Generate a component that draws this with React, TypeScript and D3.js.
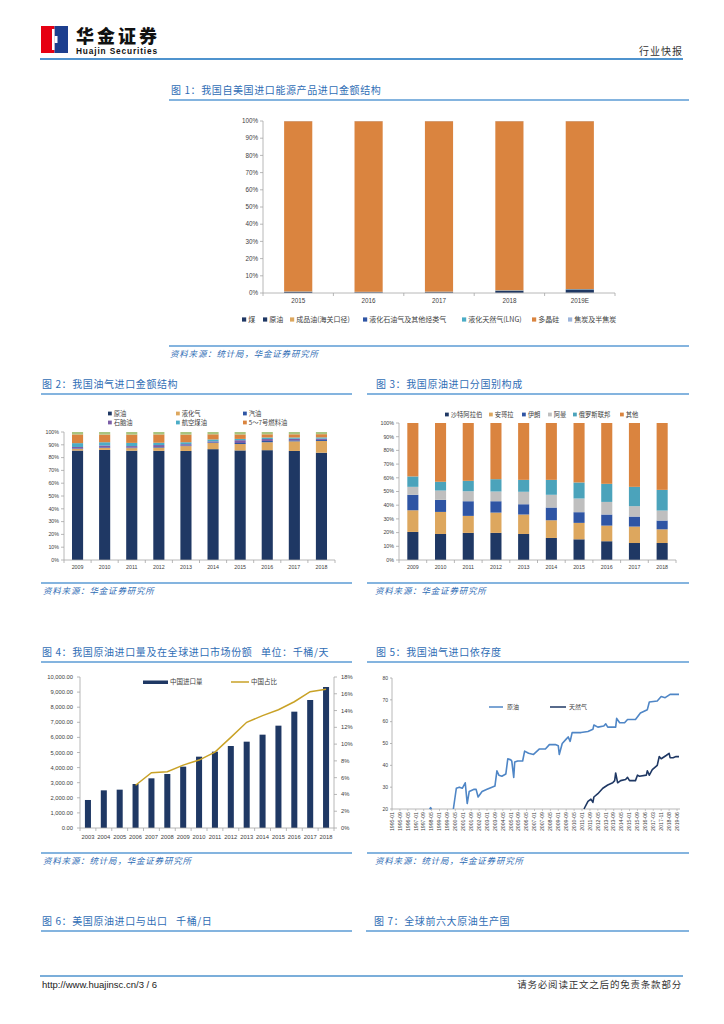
import * as d3 from 'd3';

const SANS = '"Liberation Sans", "Noto Sans CJK SC", sans-serif';
const CJK = '"Noto Sans CJK SC", sans-serif';
const TITLE_BLUE = '#2F6DB5';
const RULE_BLUE = '#5B9BD5';
const AXIS = '#A6A6A6';
const TEXT = '#404040';
const GAP = '\u00a0\u00a0\u00a0';

// ---------- Fig 1 ----------
const fig1Years = ['2015', '2016', '2017', '2018', '2019E'];
const fig1Names = ['煤', '原油', '成品油(海关口径)', '液化石油气及其他烃类气', '液化天然气(LNG)', '多晶硅', '焦炭及半焦炭'];
const fig1Colors = ['#203864', '#1F3864', '#DDA75E', '#2F55A4', '#4BACC6', '#DA843F', '#9DB5DB'];
const fig1Coal = [0.1, 0.1, 0.1, 0.1, 0.2];
const fig1Crude = [0.5, 0.3, 0.4, 1.2, 1.8];
const fig1Refined = [0.1, 0.1, 0.1, 0.1, 0.1];
const fig1Lpg = [0.1, 0.1, 0.1, 0.1, 0.1];
const fig1Lng = [0.1, 0.1, 0.1, 0.1, 0.1];
const fig1Silicon = [99.0, 99.2, 99.1, 98.3, 97.6];
const fig1Coke = [0.1, 0.1, 0.1, 0.1, 0.1];

// ---------- Fig 2 ----------
const fig2Years = ['2009', '2010', '2011', '2012', '2013', '2014', '2015', '2016', '2017', '2018'];
const fig2Names = ['原油', '液化气', '汽油', '石脑油', '航空煤油', '5～7号燃料油', '其他'];
const fig2Colors = ['#1F3864', '#DDA75E', '#2F55A4', '#7B5EA7', '#4BACC6', '#DA843F', '#A9C47F'];
const fig2Crude = [85.5, 86.0, 85.4, 85.3, 85.2, 86.6, 85.6, 85.8, 85.2, 83.8];
const fig2Lpg = [1.2, 1.5, 2.0, 2.5, 3.8, 4.8, 5.0, 6.2, 7.5, 9.2];
const fig2Gasoline = [0.4, 0.5, 0.4, 0.5, 0.5, 0.5, 0.8, 1.0, 0.8, 0.8];
const fig2Naphtha = [1.2, 1.5, 1.2, 1.5, 1.0, 0.8, 2.2, 1.5, 1.2, 1.0];
const fig2Jet = [3.0, 2.5, 2.5, 1.8, 1.5, 1.5, 1.0, 1.2, 1.0, 1.0];
const fig2Fuel = [6.8, 6.0, 6.5, 6.5, 6.0, 4.0, 3.5, 2.5, 2.5, 2.5];
const fig2Other = [1.9, 2.0, 2.0, 1.9, 2.0, 1.8, 1.9, 1.8, 1.8, 1.7];

// ---------- Fig 3 ----------
const fig3Years = fig2Years;
const fig3Names = ['沙特阿拉伯', '安哥拉', '伊朗', '阿曼', '俄罗斯联邦', '其他'];
const fig3Colors = ['#1F3864', '#DDA75E', '#2F55A4', '#BFBFBF', '#4BA3BB', '#DA843F'];
const fig3Saudi = [20.5, 19.0, 19.8, 19.8, 19.0, 16.1, 15.1, 13.7, 12.4, 12.4];
const fig3Angola = [15.8, 16.1, 12.4, 14.8, 14.2, 12.9, 12.0, 11.4, 12.0, 10.0];
const fig3Iran = [11.3, 8.8, 10.7, 8.3, 7.5, 9.3, 7.8, 8.1, 7.3, 6.4];
const fig3Oman = [5.8, 6.8, 7.3, 7.1, 9.1, 9.3, 10.0, 9.2, 7.6, 7.3];
const fig3Russia = [7.6, 6.4, 7.6, 9.0, 8.7, 10.9, 11.7, 13.2, 14.1, 15.1];
const fig3Other = [39.0, 42.9, 42.2, 41.0, 41.5, 41.5, 43.4, 44.4, 46.6, 48.8];

// ---------- Fig 4 ----------
const fig4Years = ['2003', '2004', '2005', '2006', '2007', '2008', '2009', '2010', '2011', '2012', '2013', '2014', '2015', '2016', '2017', '2018'];
const fig4Imports = [1855, 2494, 2539, 2914, 3289, 3576, 4062, 4724, 5055, 5430, 5717, 6181, 6777, 7704, 8477, 9338];
const fig4Share = [null, null, null, 5.1, 6.6, 6.7, 7.5, 8.1, 9.05, 10.8, 12.6, 13.4, 14.1, 15.05, 16.25, 16.55];

// ---------- Fig 5 ----------
const fig5Ticks = ['1995-01', '1995-09', '1996-05', '1997-01', '1997-09', '1998-05', '1999-01', '1999-09', '2000-05', '2001-01', '2001-09', '2002-05', '2003-01', '2003-09', '2004-05', '2005-01', '2005-09', '2006-05', '2007-01', '2007-09', '2008-05', '2009-01', '2009-09', '2010-05', '2011-01', '2011-09', '2012-05', '2013-01', '2013-09', '2014-05', '2015-01', '2015-09', '2016-06', '2017-03', '2017-11', '2018-08', '2019-06'];
// [period index since 1995-01, value]
const fig5Crude: [number, number | null][] = [
  [38, 20], [39, 20.6], [40, 20], [41, null],
  [62, 20], [65, 29.5], [68, 30], [71, 29.5], [74, 32], [76, 22.5], [78, 28], [83, 29], [85, 29], [87, 25.5],
  [91, 28], [96, 29], [101, 30], [104, 30.5], [106, 37.5], [108, 35.5], [111, 35], [115, 36], [117, 43],
  [120, 42.5], [121, 42], [123, 34.5], [124, 41.5], [127, 42], [132, 42], [134, 46.5], [138, 45.5], [143, 45],
  [149, 47.5], [155, 47.5], [159, 49.5], [165, 49.5], [168, 49], [169, 45], [172, 50], [176, 52], [178, 53],
  [180, 51], [182, 55], [191, 55], [198, 55.5], [203, 56.5], [204, 58.5], [208, 57.5], [214, 58], [216, 59],
  [218, 57.5], [226, 57.5], [227, 61.5], [230, 59.5], [235, 59.5], [238, 61], [246, 61], [251, 64], [258, 65.5],
  [260, 69], [268, 69.5], [272, 71.5], [276, 71], [281, 72.5], [290, 72.5],
];
const fig5Gas: [number, number | null][] = [
  [194, 20], [198, 23.5], [201, 24.5], [203, 23], [204, 25.5], [208, 27], [213, 29.5], [218, 31], [223, 32],
  [225, 33], [226, 36.5], [228, 32], [231, 33], [236, 33.5], [238, 34.5], [240, 33], [246, 33], [248, 35.5],
  [250, 35], [257, 35.5], [258, 37.5], [260, 35.5], [263, 38], [268, 40], [270, 44], [272, 43], [277, 44.5],
  [280, 45.5], [281, 43.5], [284, 43.5], [287, 44], [290, 44],
];

function FigTitle({ x, y, x1, x2, text }: { x: number; y: number; x1: number; x2: number; text: string }) {
  return (
    <g>
      <text x={x} y={y} fontFamily={CJK} fontSize={10} fill={TITLE_BLUE} letterSpacing={0.6}>{text}</text>
      <line x1={x1} x2={x2} y1={y + 6} y2={y + 6} stroke={RULE_BLUE} strokeWidth={1.5} />
    </g>
  );
}

function Source({ x, y, x1, x2, text }: { x: number; y: number; x1: number; x2: number; text: string }) {
  return (
    <g>
      <line x1={x1} x2={x2} y1={y - 11} y2={y - 11} stroke={RULE_BLUE} strokeWidth={1.5} />
      <text x={x} y={y} fontFamily={CJK} fontSize={8.5} fontStyle="italic" fill={TITLE_BLUE} letterSpacing={0.8}>{text}</text>
    </g>
  );
}

interface StackProps {
  cats: string[];
  names: string[];
  colors: string[];
  values: number[][];
  left: number;
  right: number;
  top: number;
  bottom: number;
  padding: number;
  fontSize: number;
}

function StackedBars({ cats, names, colors, values, left, right, top, bottom, padding, fontSize }: StackProps) {
  const x = d3.scaleBand().domain(cats).range([left, right]).paddingInner(padding).paddingOuter(padding / 2);
  const y = d3.scaleLinear().domain([0, 100]).range([bottom, top]);
  const rows = cats.map((c, i) => {
    const r: Record<string, number | string> = { cat: c };
    names.forEach((n, j) => { r[n] = values[j][i]; });
    return r;
  });
  const stacked = d3.stack<Record<string, number | string>>().keys(names)(rows);
  const ticks = d3.range(0, 101, 10);
  const step = x.step();
  return (
    <g>
      {stacked.map((s, j) => (
        <g key={names[j]} fill={colors[j]}>
          {s.map((d, i) => (
            <rect key={i} x={x(cats[i])} width={x.bandwidth()} y={y(d[1])} height={Math.max(0, y(d[0]) - y(d[1]))} />
          ))}
        </g>
      ))}
      <line x1={left} x2={left} y1={top} y2={bottom} stroke={AXIS} strokeWidth={0.8} />
      <line x1={left} x2={right} y1={bottom} y2={bottom} stroke={AXIS} strokeWidth={0.8} />
      {ticks.map(t => (
        <g key={t}>
          <line x1={left - 3} x2={left} y1={y(t)} y2={y(t)} stroke={AXIS} strokeWidth={0.8} />
          <text x={left - 5} y={y(t)} dy="0.35em" textAnchor="end" fontFamily={SANS} fontSize={fontSize} fill={TEXT}>{t}%</text>
        </g>
      ))}
      {d3.range(cats.length + 1).map(i => (
        <line key={i} x1={left + i * step} x2={left + i * step} y1={bottom} y2={bottom + 3} stroke={AXIS} strokeWidth={0.8} />
      ))}
      {cats.map(c => (
        <text key={c} x={(x(c) ?? 0) + x.bandwidth() / 2} y={bottom + fontSize + 4} textAnchor="middle" fontFamily={SANS} fontSize={fontSize} fill={TEXT}>{c}</text>
      ))}
    </g>
  );
}

function Legend({ items, colors, xs, ys, fontSize }: { items: string[]; colors: string[]; xs: number[]; ys: number[]; fontSize: number }) {
  const s = fontSize * 0.6;
  return (
    <g>
      {items.map((n, i) => (
        <g key={n}>
          <rect x={xs[i]} y={ys[i] - s / 2} width={s} height={s} fill={colors[i]} />
          <text x={xs[i] + s + 2} y={ys[i]} dy="0.35em" fontFamily={CJK} fontSize={fontSize} fill={TEXT}>{n}</text>
        </g>
      ))}
    </g>
  );
}

function Header() {
  return (
    <g>
      <rect x={41} y={26} width={13.5} height={27} fill="#E60012" />
      <rect x={54.5} y={26} width={13.5} height={27} fill="#1D3F8E" />
      <rect x={52} y={29} width={2.5} height={21} fill="#fff" />
      <rect x={54.5} y={36} width={3} height={7} fill="#fff" />
      <rect x={50} y={36} width={2} height={7} fill="#E60012" />
      <text x={76} y={43} fontFamily={CJK} fontWeight={900} fontSize={18} fill="#111" textLength={81}>华金证券</text>
      <text x={76} y={54} fontFamily={SANS} fontWeight={700} fontSize={8.3} fill="#111" textLength={81}>Huajin Securities</text>
      <text x={639} y={55} fontFamily={CJK} fontSize={10} fill="#333" letterSpacing={1}>行业快报</text>
      <line x1={40} x2={683} y1={59} y2={59} stroke="#4F93CE" strokeWidth={2} />
    </g>
  );
}

function Fig4() {
  const left = 80, right = 334, top = 677, bottom = 828;
  const x = d3.scaleBand().domain(fig4Years).range([left, right]).paddingInner(0.62).paddingOuter(0.31);
  const yL = d3.scaleLinear().domain([0, 10000]).range([bottom, top]);
  const yR = d3.scaleLinear().domain([0, 18]).range([bottom, top]);
  const fmt = d3.format(',.2f');
  const pts = fig4Years.map((c, i) => [(x(c) ?? 0) + x.bandwidth() / 2, fig4Share[i]] as [number, number | null]);
  const line = d3.line<[number, number | null]>().defined(d => d[1] != null).x(d => d[0]).y(d => yR(d[1] as number));
  const step = x.step();
  return (
    <g>
      {fig4Years.map((c, i) => (
        <rect key={c} x={x(c)} width={x.bandwidth()} y={yL(fig4Imports[i])} height={bottom - yL(fig4Imports[i])} fill="#1F3864" />
      ))}
      <path d={line(pts) ?? ''} fill="none" stroke="#C9A227" strokeWidth={1.5} />
      <line x1={left} x2={left} y1={top} y2={bottom} stroke={AXIS} strokeWidth={0.8} />
      <line x1={right} x2={right} y1={top} y2={bottom} stroke={AXIS} strokeWidth={0.8} />
      <line x1={left} x2={right} y1={bottom} y2={bottom} stroke={AXIS} strokeWidth={0.8} />
      {yL.ticks(10).map(t => (
        <g key={t}>
          <line x1={left - 3} x2={left} y1={yL(t)} y2={yL(t)} stroke={AXIS} strokeWidth={0.8} />
          <text x={left - 7} y={yL(t)} dy="0.35em" textAnchor="end" fontFamily={SANS} fontSize={5.8} fill={TEXT}>{fmt(t)}</text>
        </g>
      ))}
      {d3.range(0, 19, 2).map(t => (
        <g key={t}>
          <line x1={right} x2={right + 3} y1={yR(t)} y2={yR(t)} stroke={AXIS} strokeWidth={0.8} />
          <text x={right + 7} y={yR(t)} dy="0.35em" fontFamily={SANS} fontSize={5.8} fill={TEXT}>{t}%</text>
        </g>
      ))}
      {d3.range(fig4Years.length + 1).map(i => (
        <line key={i} x1={left + i * step} x2={left + i * step} y1={bottom} y2={bottom + 3} stroke={AXIS} strokeWidth={0.8} />
      ))}
      {fig4Years.map(c => (
        <text key={c} x={(x(c) ?? 0) + x.bandwidth() / 2} y={bottom + 11} textAnchor="middle" fontFamily={SANS} fontSize={5.8} fill={TEXT}>{c}</text>
      ))}
      <rect x={143} y={680.5} width={25} height={3.5} fill="#1F3864" />
      <text x={170} y={682} dy="0.35em" fontFamily={CJK} fontSize={6.5} fill={TEXT}>中国进口量</text>
      <line x1={231} x2={249} y1={682} y2={682} stroke="#C9A227" strokeWidth={1.5} />
      <text x={251} y={682} dy="0.35em" fontFamily={CJK} fontSize={6.5} fill={TEXT}>中国占比</text>
    </g>
  );
}

function Fig5() {
  const left = 392, right = 680, top = 678, bottom = 809;
  const x = d3.scaleLinear().domain([0, 291]).range([left, right]);
  const y = d3.scaleLinear().domain([20, 80]).range([bottom, top]);
  const line = d3.line<[number, number | null]>().defined(d => d[1] != null).x(d => x(d[0])).y(d => y(d[1] as number));
  return (
    <g>
      <line x1={left} x2={left} y1={top} y2={bottom} stroke={AXIS} strokeWidth={0.8} />
      <line x1={left} x2={right} y1={bottom} y2={bottom} stroke={AXIS} strokeWidth={0.8} />
      {y.ticks(6).map(t => (
        <g key={t}>
          <line x1={left - 2} x2={left} y1={y(t)} y2={y(t)} stroke={AXIS} strokeWidth={0.8} />
          <text x={left - 4} y={y(t)} dy="0.35em" textAnchor="end" fontFamily={SANS} fontSize={5} fill={TEXT}>{t}</text>
        </g>
      ))}
      {fig5Ticks.map((t, i) => (
        <g key={t}>
          <line x1={x(i * 8)} x2={x(i * 8)} y1={bottom} y2={bottom + 2} stroke={AXIS} strokeWidth={0.6} />
          <text transform={`translate(${x(i * 8) + 1.8},${bottom + 3}) rotate(-90)`} textAnchor="end" fontFamily={SANS} fontSize={5.2} fill={TEXT}>{t}</text>
        </g>
      ))}
      <path d={line(fig5Crude) ?? ''} fill="none" stroke="#4F86C6" strokeWidth={1.6} strokeLinejoin="round" />
      <path d={line(fig5Gas) ?? ''} fill="none" stroke="#1F3864" strokeWidth={1.6} strokeLinejoin="round" />
      <line x1={489} x2={503} y1={707} y2={707} stroke="#4F86C6" strokeWidth={1.5} />
      <text x={507} y={707} dy="0.35em" fontFamily={CJK} fontSize={6} fill={TEXT}>原油</text>
      <line x1={550} x2={566} y1={707} y2={707} stroke="#1F3864" strokeWidth={1.5} />
      <text x={569} y={707} dy="0.35em" fontFamily={CJK} fontSize={6} fill={TEXT}>天然气</text>
    </g>
  );
}

export default function App() {
  return (
    <svg width={724} height={1024} style={{ position: 'absolute', left: 0, top: 0, background: '#fff' }}>
      <rect width={724} height={1024} fill="#fff" />
      <Header />

      <FigTitle x={171} y={94} x1={169} x2={689} text="图 1：我国自美国进口能源产品进口金额结构" />
      <StackedBars
        cats={fig1Years} names={fig1Names} colors={fig1Colors}
        values={[fig1Coal, fig1Crude, fig1Refined, fig1Lpg, fig1Lng, fig1Silicon, fig1Coke]}
        left={263} right={615} top={121} bottom={293} padding={0.6} fontSize={6.3}
      />
      <Legend items={fig1Names} colors={fig1Colors} xs={[242, 263, 290, 363, 462, 532, 568]} ys={fig1Names.map(() => 319.5)} fontSize={7} />
      <Source x={170} y={357} x1={169} x2={689} text="资料来源：统计局，华金证券研究所" />

      <FigTitle x={42} y={388} x1={41} x2={352} text="图 2：我国油气进口金额结构" />
      <StackedBars
        cats={fig2Years} names={fig2Names} colors={fig2Colors}
        values={[fig2Crude, fig2Lpg, fig2Gasoline, fig2Naphtha, fig2Jet, fig2Fuel, fig2Other]}
        left={64} right={335} top={432} bottom={560} padding={0.59} fontSize={5.3}
      />
      <Legend items={fig2Names.slice(0, 6)} colors={fig2Colors} xs={[108, 176, 243, 108, 176, 243]} ys={[413.5, 413.5, 413.5, 422.5, 422.5, 422.5]} fontSize={6.3} />
      <Source x={43} y={594} x1={41} x2={352} text="资料来源：华金证券研究所" />

      <FigTitle x={376} y={388} x1={367} x2={689} text="图 3：我国原油进口分国别构成" />
      <StackedBars
        cats={fig3Years} names={fig3Names} colors={fig3Colors}
        values={[fig3Saudi, fig3Angola, fig3Iran, fig3Oman, fig3Russia, fig3Other]}
        left={399} right={676} top={423} bottom={560} padding={0.6} fontSize={5.3}
      />
      <Legend items={fig3Names} colors={fig3Colors} xs={[445, 489, 522, 548, 573, 620]} ys={fig3Names.map(() => 414.5)} fontSize={6.3} />
      <Source x={375} y={594} x1={367} x2={689} text="资料来源：华金证券研究所" />

      <FigTitle x={42} y={656} x1={41} x2={352} text={`图 4：我国原油进口量及在全球进口市场份额${GAP}单位：千桶/天`} />
      <Fig4 />
      <Source x={43} y={864} x1={41} x2={352} text="资料来源：统计局，华金证券研究所" />

      <FigTitle x={376} y={656} x1={367} x2={689} text="图 5：我国油气进口依存度" />
      <Fig5 />
      <Source x={375} y={864} x1={367} x2={689} text="资料来源：统计局，华金证券研究所" />

      <FigTitle x={42} y={925} x1={41} x2={352} text={`图 6：美国原油进口与出口${GAP}千桶/日`} />
      <FigTitle x={374} y={925} x1={366} x2={689} text="图 7：全球前六大原油生产国" />

      <line x1={40} x2={683} y1={976} y2={976} stroke="#4F93CE" strokeWidth={1.5} />
      <text x={42} y={988} fontFamily={SANS} fontSize={9.5} fill="#222">http://www.huajinsc.cn/3 / 6</text>
      <text x={682} y={988} textAnchor="end" fontFamily={CJK} fontSize={9.5} fill="#333" letterSpacing={0.8}>请务必阅读正文之后的免责条款部分</text>
    </svg>
  );
}
